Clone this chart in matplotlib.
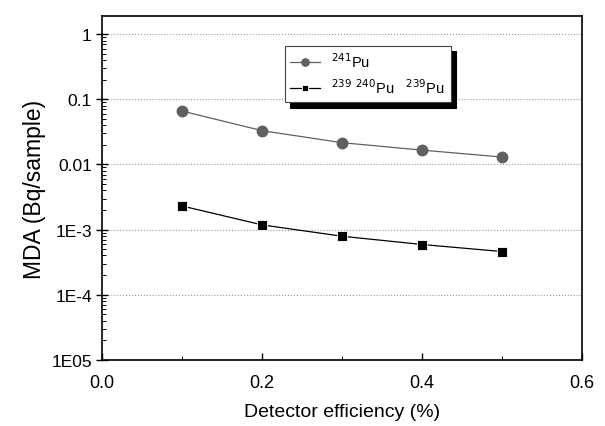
import matplotlib
matplotlib.use("Agg")
import matplotlib.pyplot as plt
from matplotlib.ticker import FixedLocator, LogLocator, NullFormatter

plt.rcParams['font.family'] = ['Liberation Sans', 'DejaVu Sans']

efficiency = [0.1, 0.2, 0.3, 0.4, 0.5]
mda_pu241 = [0.066, 0.033, 0.0216, 0.0166, 0.013]
mda_pu239 = [0.0023, 0.00118, 0.00079, 0.00059, 0.00046]

ytick_vals = [1e-5, 1e-4, 1e-3, 1e-2, 1e-1, 1]
ytick_labels = ["1E05", "1E-4", "1E-3", "0.01", "0.1", "1"]
xtick_vals = [0.0, 0.2, 0.4, 0.6]

fig = plt.figure(figsize=(6.05, 4.27), dpi=100)
ax = fig.add_axes([0.169, 0.155, 0.793, 0.805])

ax.plot(efficiency, mda_pu241, '-o', color='#606060', lw=0.9, ms=7.5,
        label="$^{241}$Pu")
ax.plot(efficiency, mda_pu239, '-s', color='black', lw=0.9, ms=7,
        mfc='black', mec='white', mew=0.6,
        label="$^{239}$ $^{240}$Pu   $^{239}$Pu")

ax.set_yscale('log')
ax.set_ylim(1e-5, 1.9)
ax.set_xlim(0.0, 0.6)
ax.set_yticks(ytick_vals)
ax.set_yticklabels(ytick_labels)
ax.yaxis.set_minor_locator(LogLocator(base=10, subs=range(2, 10), numticks=20))
ax.yaxis.set_minor_formatter(NullFormatter())
ax.set_xticks(xtick_vals)
ax.set_xticklabels(["0.0", "0.2", "0.4", "0.6"])
ax.xaxis.set_minor_locator(FixedLocator([0.1, 0.3, 0.5]))

ax.tick_params(axis='y', which='major', direction='inout', length=8, width=1,
               labelsize=12.5)
ax.tick_params(axis='y', which='minor', direction='in', length=3, width=0.7)
ax.tick_params(axis='x', which='major', direction='in', length=5, width=1,
               labelsize=13, pad=10)
ax.tick_params(axis='x', which='minor', direction='in', length=3, width=0.7)

for s in ax.spines.values():
    s.set_linewidth(1.2)

ax.grid(axis='y', which='major', ls=':', color='#999999', lw=0.8)

ax.set_xlabel("Detector efficiency (%)", fontsize=14, labelpad=9)
ax.set_ylabel("MDA (Bq/sample)", fontsize=16.5, labelpad=4)

leg = ax.legend(loc='upper left', bbox_to_anchor=(0.365, 0.935), fontsize=10.5,
                frameon=True, fancybox=False, edgecolor='#444444',
                shadow={'color': 'black', 'alpha': 1, 'ox': 4, 'oy': -4},
                borderpad=0.4, handlelength=2.0, markerscale=0.7,
                labelspacing=0.5)
leg.get_frame().set_linewidth(0.8)

fig.savefig("out.png", dpi=100)
